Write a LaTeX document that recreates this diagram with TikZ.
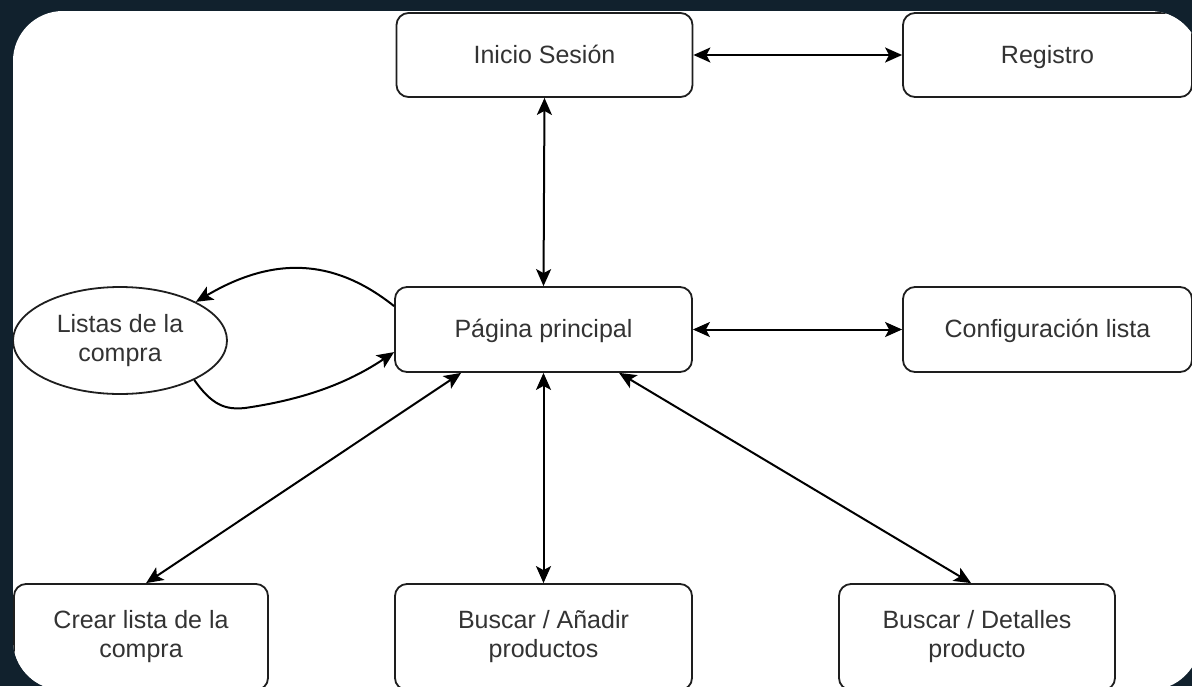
\documentclass[tikz,border=0pt]{standalone}
\usepackage{fontspec}
\setmainfont{Liberation Sans}
\usetikzlibrary{calc,shapes.geometric,arrows.meta}
\definecolor{bgdark}{RGB}{17,33,45}
\definecolor{txt}{RGB}{51,51,51}
\definecolor{edge}{RGB}{30,30,30}
\tikzset{
  box/.style={draw=edge, line width=1.8pt, rounded corners=12pt, fill=white,
    text=txt, align=center, inner sep=0pt,
    font=\fontsize{25}{29}\selectfont},
  oneline/.style={text height=20pt, text depth=4pt},
  oval/.style={draw=edge, line width=1.8pt, ellipse, fill=white, text=txt,
    align=center, inner sep=0pt, font=\fontsize{25}{29}\selectfont},
  tip/.tip={Stealth[length=17pt,width=15pt,inset=4pt]},
  conn/.style={draw=black, line width=2pt, tip-tip},
  conn1/.style={draw=black, line width=2pt, -tip},
}
\begin{document}
\begin{tikzpicture}[x=1pt,y=-1pt]
\useasboundingbox (0,0) rectangle (1192,686);
\fill[bgdark] (0,0) rectangle (1192,686);
\begin{scope}
\clip (0,0) rectangle (1192,686);
\clip[rounded corners=50pt] (13,11) rectangle (1200,690);
\fill[white] (0,0) rectangle (1200,700);

\node[box, oneline, minimum width=296pt, minimum height=84pt] (ini) at (544.5,55) {Inicio Sesión};
\node[box, oneline, minimum width=289pt, minimum height=84pt] (reg) at (1047.5,55) {Registro};
\node[box, oneline, minimum width=297pt, minimum height=85pt] (pag) at (543.5,329.5) {Página principal};
\node[box, oneline, minimum width=289pt, minimum height=85pt] (conf) at (1047.5,329.5) {Configuración lista};
\node[oval, minimum width=214pt, minimum height=107pt] (ell) at (120,340.5) {Listas de la\\compra};
\node[box, minimum width=254pt, minimum height=106pt] (crear) at (141,637) {Crear lista de la\\compra};
\node[box, minimum width=297pt, minimum height=106pt] (anad) at (543.5,637) {Buscar / Añadir\\productos};
\node[box, minimum width=276pt, minimum height=106pt] (det) at (977,637) {Buscar / Detalles\\producto};

\draw[conn] (ini.east) -- (reg.west);
\draw[conn] (ini.south) -- (pag.north);
\draw[conn] (pag.east) -- (conf.west);
\draw[conn] (pag.south) -- (anad.north);
\draw[conn] ($(pag.south west)+(67,0)$) -- ($(crear.north west)+(133,0)$);
\draw[conn] ($(pag.south west)+(225,0)$) -- ($(det.north west)+(133,0)$);

\coordinate (pa) at ($(pag.north west)+(0,20)$);
\coordinate (pb) at ($(pag.north west)+(0,66)$);
\draw[conn1] (pa) .. controls (340,263) and (280,252) .. (ell.27);
\draw[conn1] (ell.-28) .. controls (212,405) and (225,410) .. (245,408)
   .. controls (300,400) and (345,385) .. (pb);
\end{scope}
\end{tikzpicture}
\end{document}
